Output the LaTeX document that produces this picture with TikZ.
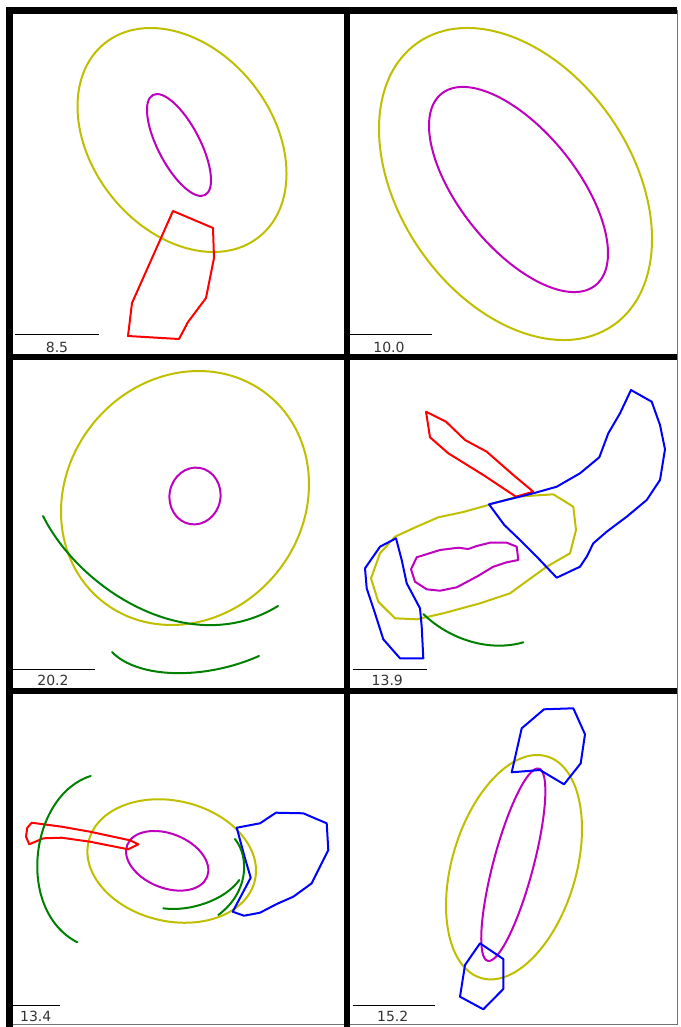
\documentclass[tikz,border=0pt]{standalone}
\usepackage{fontspec}
\setmainfont{DejaVu Sans}
\usepackage{xcolor}
\definecolor{ringout}{RGB}{191,191,0}
\definecolor{ringin}{RGB}{191,0,191}
\definecolor{regred}{RGB}{255,0,0}
\definecolor{regblue}{RGB}{0,0,255}
\definecolor{arcgreen}{RGB}{0,128,0}
\definecolor{labelgray}{RGB}{51,51,51}

\begin{document}
\begin{tikzpicture}[x=1pt, y=-1pt,
    panelrule/.style={line width=6.5pt, black},
    thinrule/.style={line width=0.8pt, black!55},
    outerring/.style={ringout, line width=2pt},
    innerring/.style={ringin, line width=2pt},
    redreg/.style={regred, line width=2pt, line join=round},
    bluereg/.style={regblue, line width=2pt, line join=round},
    greenarc/.style={arcgreen, line width=2pt, line cap=round},
    scalebar/.style={line width=1pt, black},
    barlabel/.style={text=labelgray, inner sep=0pt, font=\fontsize{14}{16}\selectfont}]
  \useasboundingbox (0,0) rectangle (680,1027);

  % grid of panels
  \draw[thinrule] (677,10) -- (677,1024) -- (10,1024);
  \draw[panelrule] (6,10.5) -- (677,10.5);
  \draw[panelrule] (9.5,7) -- (9.5,1027);
  \draw[panelrule] (347,7) -- (347,1027);
  \draw[panelrule] (6,357) -- (677,357);
  \draw[panelrule] (6,691) -- (677,691);

  % panel 1
  \draw[outerring, rotate around={-51.5:(182,140)}] (182,140) ellipse [x radius=123.8, y radius=90.2];
  \draw[innerring, rotate around={-62.5:(179,145)}] (179,145) ellipse [x radius=56.4, y radius=21];
  \draw[redreg] (173,211) -- (213,228) -- (214,258) -- (206,298) -- (188,322)
    -- (179,339) -- (128,336) -- (132,303) -- cycle;
  \draw[scalebar] (15,334) -- (99,334);
  \node[barlabel] (scaleA) at (57,347) {8.5};

  % panel 2
  \draw[outerring, rotate around={-55.4:(515.5,184)}] (515.5,184) ellipse [x radius=171.8, y radius=116];
  \draw[innerring, rotate around={-51.2:(518.5,189.5)}] (518.5,189.5) ellipse [x radius=122.9, y radius=58.5];
  \draw[scalebar] (350,334) -- (432,334);
  \node[barlabel] (scaleB) at (389,347) {10.0};

  % panel 3
  \draw[outerring, rotate around={51.2:(185,498)}] (185,498) ellipse [x radius=132.3, y radius=118.3];
  \draw[innerring, rotate around={-10:(195,496)}] (195,496) ellipse [x radius=25.5, y radius=28.5];
  \draw[greenarc] (43,516) .. controls (80,590) and (190,660) .. (278,606);
  \draw[greenarc] (112,652) .. controls (138,679) and (205,680) .. (259,656);
  \draw[scalebar] (13,669) -- (95,669);
  \node[barlabel] (scaleC) at (53,680) {20.2};

  % panel 4
  \draw[outerring, line join=round] (395,536.7) -- (416.7,526.7) -- (438.3,517.3) -- (463.3,512)
    -- (488.3,505) -- (516.7,496.7) -- (553.3,494.3) -- (573.3,506.7) -- (576,530)
    -- (570,553.3) -- (546.7,566.7) -- (528.3,580) -- (510,593.3) -- (480,603.3)
    -- (443.3,613.3) -- (416.7,619.3) -- (395,618.3) -- (378.3,601.7) -- (371,578.3)
    -- (380,553.3) -- cycle;
  \draw[innerring, line join=round] (416.7,557.3) -- (440,550) -- (458.3,547.7) -- (468.3,549)
    -- (476.7,546) -- (490,542.7) -- (506.7,542.7) -- (516.7,546.7) -- (518.3,560)
    -- (506.7,562.3) -- (493.3,566.7) -- (476.7,576.7) -- (456.7,587.3) -- (440,590.7)
    -- (426.7,589.3) -- (415,581.7) -- (411,569.3) -- cycle;
  \draw[redreg] (426,411.7) -- (446,421.7) -- (465,440) -- (486.7,451.7) -- (513.3,475)
    -- (533.3,491.7) -- (516,496.7) -- (483.3,475) -- (448.3,453.3) -- (430,437.3) -- cycle;
  \draw[bluereg] (489,504.3) -- (533.3,493.3) -- (556.7,486.7) -- (580,473.3) -- (599.3,457.3)
    -- (608.3,433.3) -- (620,413.3) -- (631,390) -- (651.7,401.7) -- (660,425)
    -- (665,449.3) -- (660,480) -- (646.7,500) -- (626.7,516.7) -- (606.7,531.7)
    -- (593.3,543.3) -- (586.7,556.7) -- (580,566.7) -- (556.7,577.7) -- (536.7,556.7)
    -- (520,540) -- (504.3,525) -- cycle;
  \draw[bluereg] (396,538.3) -- (380,546.7) -- (365,568.3) -- (366.7,588.3) -- (375,613.3)
    -- (383.3,639.3) -- (400,658.3) -- (423.3,658.3) -- (421.7,626.7) -- (420,608.3)
    -- (406.7,583.3) -- (401.7,560) -- cycle;
  \draw[greenarc] (423.3,614) .. controls (450,640) and (490,652) .. (523.3,642.3);
  \draw[scalebar] (352.7,669.3) -- (426.7,669.3);
  \node[barlabel] (scaleD) at (387.3,680) {13.9};

  % panel 5
  \draw[outerring, rotate around={-13.1:(171.7,861)}] (171.7,861) ellipse [x radius=85.4, y radius=60.2];
  \draw[innerring, rotate around={-21.9:(167.2,860.8)}] (167.2,860.8) ellipse [x radius=43, y radius=27.1];
  \draw[redreg] (31.7,822.7) -- (61.7,826.7) -- (90,831.7) -- (130,840.3) -- (138.3,844.3)
    -- (128.3,849.3) -- (90,841.7) -- (61.7,837.7) -- (43.3,838.3) -- (29.3,844.3)
    -- (26,836.7) -- (27.3,827.7) -- cycle;
  \draw[bluereg] (236.7,827.7) -- (260,823.3) -- (276,812.7) -- (303.3,813.3) -- (326.7,823.3)
    -- (328.3,850) -- (311.7,883.3) -- (293.3,896.7) -- (276.7,904) -- (260,912.7)
    -- (244,915.7) -- (232.7,911.7) -- (250.7,877.7) -- (245,858.3) -- cycle;
  \draw[greenarc] (90.7,776) .. controls (30,795) and (15,910) .. (77.3,942.3);
  \draw[greenarc] (163.3,908.3) .. controls (190,912) and (225,900) .. (239.3,880);
  \draw[greenarc] (235,839) .. controls (250,858) and (248,893) .. (218.3,915);
  \draw[scalebar] (13.3,1005) -- (60,1005);
  \node[barlabel] (scaleE) at (35.7,1016) {13.4};

  % panel 6
  \draw[outerring, rotate around={73.4:(514,867.2)}] (514,867.2) ellipse [x radius=115.6, y radius=62];
  \draw[innerring, rotate around={75.1:(513.3,864.7)}] (513.3,864.7) ellipse [x radius=99.5, y radius=20];
  \draw[bluereg] (511.7,772.3) -- (521.7,728.3) -- (544,709.3) -- (573.3,708.3) -- (585,734.3)
    -- (580.7,763.3) -- (564,784.3) -- (540,770) -- cycle;
  \draw[bluereg] (480,943.3) -- (503.3,959) -- (503.3,989) -- (483.3,1009.3) -- (460,996.7)
    -- (465,965) -- cycle;
  \draw[scalebar] (352.7,1005) -- (435,1005);
  \node[barlabel] (scaleF) at (392.7,1016) {15.2};
\end{tikzpicture}
\end{document}
